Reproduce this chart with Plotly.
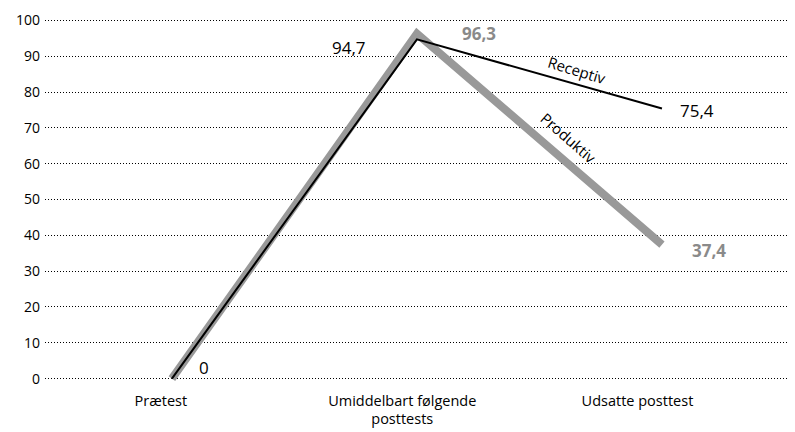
import plotly.graph_objects as go

categories = ["Prætest", "Umiddelbart følgende<br>posttests", "Udsatte posttest"]
receptiv = [0, 94.7, 75.4]
produktiv = [0, 96.3, 37.4]
y_ticks = [0, 10, 20, 30, 40, 50, 60, 70, 80, 90, 100]

x = [0, 1, 2]
GRAY = "#999999"
GRAY_TXT = "#8a8a8a"
FONT = "Open Sans"

def fmt(v):
    return ("%.1f" % v).replace(".", ",") if v != int(v) else str(int(v))

fig = go.Figure()
fig.add_trace(go.Scatter(x=x, y=produktiv, mode="lines", name="Produktiv",
                         line=dict(color=GRAY, width=8), cliponaxis=False))
fig.add_trace(go.Scatter(x=x, y=receptiv, mode="lines", name="Receptiv",
                         line=dict(color="black", width=2), cliponaxis=False))

ann = []
# value labels
ann.append(dict(x=x[0], y=receptiv[0], text=fmt(receptiv[0]), xshift=32, yshift=11,
                font=dict(size=17, color="black", family=FONT)))
ann.append(dict(x=x[1], y=receptiv[1], text=fmt(receptiv[1]), xshift=-68, yshift=-8,
                font=dict(size=17, color="black", family=FONT)))
ann.append(dict(x=x[1], y=produktiv[1], text="<b>" + fmt(produktiv[1]) + "</b>", xshift=62, yshift=0,
                font=dict(size=17, color=GRAY_TXT, family=FONT)))
ann.append(dict(x=x[2], y=receptiv[2], text=fmt(receptiv[2]), xshift=35, yshift=-2,
                font=dict(size=17, color="black", family=FONT)))
ann.append(dict(x=x[2], y=produktiv[2], text="<b>" + fmt(produktiv[2]) + "</b>", xshift=47, yshift=-6,
                font=dict(size=17, color=GRAY_TXT, family=FONT)))
# series names along the lines
ann.append(dict(x=x[1], y=receptiv[1], text="Receptiv", xshift=160, yshift=-31, textangle=17,
                font=dict(size=15, color="black", family=FONT)))
ann.append(dict(x=x[1], y=produktiv[1], text="Produktiv", xshift=152, yshift=-104, textangle=41,
                font=dict(size=15, color="black", family=FONT)))
for a in ann:
    a.update(xref="x", yref="y", showarrow=False)

fig.update_layout(
    width=795, height=432,
    margin=dict(l=37, r=8, t=7, b=56),
    plot_bgcolor="white", paper_bgcolor="white",
    showlegend=False,
    annotations=ann,
    xaxis=dict(range=[-0.518, 2.543], tickvals=[-0.045, 0.94, 1.9], ticktext=categories,
               showgrid=False, zeroline=False, showline=False, ticks="",
               ticklabelstandoff=6, automargin=False,
               tickfont=dict(size=14.5, color="black", family=FONT)),
    yaxis=dict(range=[-1.5, 101.5], tickvals=y_ticks, showgrid=True, gridcolor="black",
               gridwidth=1, griddash="1px,2px", zeroline=False, showline=False, ticks="",
               ticklabelstandoff=4, automargin=False,
               tickfont=dict(size=14, color="black", family=FONT)),
)

fig.write_html("out.html")
